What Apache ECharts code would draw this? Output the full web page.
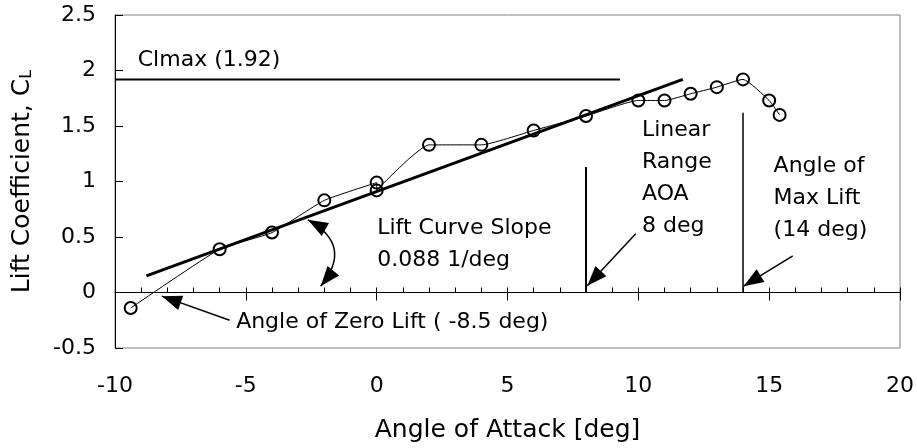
<!DOCTYPE html>
<html>
<head>
<meta charset="utf-8">
<title>Lift Curve</title>
<script src="https://cdn.jsdelivr.net/npm/echarts@6/dist/echarts.min.js"></script>
</head>
<body style="margin:0">
<div id="main" style="width:917px;height:448px;"></div>
<script>
// measured points (angle of attack, lift coefficient)
var aoa = [-9.4, -6, -4, -2, 0, 0, 2, 4, 6, 8, 10, 11, 12, 13, 14, 15, 15.4];
var cl = [-0.14, 0.39, 0.54, 0.83, 0.99, 0.92, 1.33, 1.33, 1.46, 1.59, 1.73, 1.73, 1.79, 1.85, 1.92, 1.73, 1.6];

// linear fit of the lift curve
var fitX = [-8.8, 11.7];
var fitY = [0.15, 1.92];

// Clmax level
var clmaxX = [-10, 9.3];
var clmaxY = [1.92, 1.92];

// vertical markers
var linearX = [8, 8];
var linearY = [0, 1.13];
var maxLiftX = [14, 14];
var maxLiftY = [0, 1.62];

// text notes: [x, y, text]
var notes = [
    [-9.15, 2.09, 'Clmax (1.92)'],
    [0, 0.43, 'Lift Curve Slope\n0.088 1/deg'],
    [10.12, 1.03, 'Linear\nRange\nAOA\n8 deg'],
    [15.15, 0.85, 'Angle of\nMax Lift\n(14 deg)'],
    [-5.39, -0.27, 'Angle of Zero Lift ( -8.5 deg)']
];

// arrows: [x1, y1, x2, y2, curveness, head at start too (1/0)]
var arrows = [
    [9.9, 0.53, 8.05, 0.06, 0, 0],
    [15.9, 0.33, 14.02, 0.057, 0, 0],
    [-5.62, -0.25, -8.21, -0.033, 0, 0],
    [-2.63, 0.655, -2.14, 0.057, 0.6, 1]
];

function pairs(xs, ys) {
    return xs.map(function (x, i) { return [x, ys[i]]; });
}

// filled triangle head with its tip on `tip`, pointing away from `from`
function arrowHead(from, tip) {
    var dx = tip[0] - from[0], dy = tip[1] - from[1];
    var len = Math.sqrt(dx * dx + dy * dy) || 1;
    dx /= len; dy /= len;
    var L = 20, W = 15;
    var bx = tip[0] - dx * L, by = tip[1] - dy * L;
    return {
        type: 'polygon',
        shape: { points: [tip, [bx - dy * W / 2, by + dx * W / 2], [bx + dy * W / 2, by - dx * W / 2]] },
        style: { fill: '#000' }
    };
}

function renderArrow(params, api) {
    var p1 = api.coord([api.value(0), api.value(1)]);
    var p2 = api.coord([api.value(2), api.value(3)]);
    var c = api.value(4);
    var children = [];
    var cp = null;
    if (c) {
        cp = [(p1[0] + p2[0]) / 2 - (p1[1] - p2[1]) * c, (p1[1] + p2[1]) / 2 - (p2[0] - p1[0]) * c];
        children.push({
            type: 'bezierCurve',
            shape: { x1: p1[0], y1: p1[1], x2: p2[0], y2: p2[1], cpx1: cp[0], cpy1: cp[1] },
            style: { stroke: '#000', lineWidth: 1.5, fill: null }
        });
    } else {
        children.push({
            type: 'line',
            shape: { x1: p1[0], y1: p1[1], x2: p2[0], y2: p2[1] },
            style: { stroke: '#000', lineWidth: 1.5 }
        });
    }
    children.push(arrowHead(cp || p1, p2));
    if (api.value(5)) {
        children.push(arrowHead(cp || p2, p1));
    }
    return { type: 'group', children: children };
}

var font = 'DejaVu Sans';
var myChart = echarts.init(document.getElementById('main'));

myChart.setOption({
    animation: false,
    grid: {
        left: 115, right: 16, top: 15, bottom: 100,
        show: true, borderColor: '#808080', borderWidth: 1
    },
    xAxis: [
        {
            type: 'value', min: -10, max: 20, interval: 5, position: 'bottom',
            axisLine: { show: false, onZero: false },
            axisTick: { show: false },
            splitLine: { show: false },
            axisLabel: { margin: 27, fontSize: 22, color: '#000', fontFamily: font },
            name: 'Angle of Attack [deg]', nameLocation: 'middle', nameGap: 70,
            nameTextStyle: { fontSize: 25, color: '#000', fontFamily: font }
        },
        {
            type: 'value', min: -10, max: 20, interval: 1, position: 'bottom',
            axisLine: { show: true, onZero: true, onZeroAxisIndex: 0, lineStyle: { color: '#000', width: 1 } },
            axisTick: { show: true, inside: true, length: 5, lineStyle: { color: '#000' } },
            axisLabel: { show: false },
            splitLine: { show: false }
        },
        {
            type: 'value', min: -10, max: 20, interval: 5, position: 'bottom',
            axisLine: { show: false, onZero: true, onZeroAxisIndex: 0 },
            axisTick: { show: true, inside: false, length: 8, lineStyle: { color: '#000' } },
            axisLabel: { show: false },
            splitLine: { show: false }
        }
    ],
    yAxis: {
        type: 'value', min: -0.5, max: 2.5, interval: 0.5,
        axisLine: { show: true, onZero: false, lineStyle: { color: '#000', width: 1 } },
        axisTick: { show: true, inside: true, length: 8, lineStyle: { color: '#000' } },
        splitLine: { show: false },
        axisLabel: { margin: 19, fontSize: 22, color: '#000', fontFamily: font },
        name: '{a|Lift Coefficient, C}{b|L}', nameLocation: 'middle', nameGap: 80,
        nameTextStyle: {
            color: '#000', fontFamily: font,
            rich: {
                a: { fontSize: 25, color: '#000', fontFamily: font, verticalAlign: 'bottom' },
                b: { fontSize: 16, color: '#000', fontFamily: font, verticalAlign: 'bottom' }
            }
        }
    },
    series: [
        {
            name: 'fit', type: 'line', data: pairs(fitX, fitY),
            showSymbol: false, lineStyle: { color: '#000', width: 3 }
        },
        {
            name: 'clmax', type: 'line', data: pairs(clmaxX, clmaxY),
            showSymbol: false, lineStyle: { color: '#000', width: 2 }
        },
        {
            name: 'linear', type: 'line', data: pairs(linearX, linearY),
            showSymbol: false, lineStyle: { color: '#000', width: 2 }
        },
        {
            name: 'maxLift', type: 'line', data: pairs(maxLiftX, maxLiftY),
            showSymbol: false, lineStyle: { color: '#000', width: 1.5 }
        },
        {
            name: 'CL', type: 'line', data: pairs(aoa, cl), smooth: 0.15,
            symbol: 'circle', symbolSize: 12, showAllSymbol: true,
            itemStyle: { color: 'rgba(0,0,0,0)', borderColor: '#000', borderWidth: 2 },
            lineStyle: { color: '#000', width: 1 }
        },
        {
            name: 'arrows', type: 'custom', silent: true,
            renderItem: renderArrow,
            data: arrows
        },
        {
            name: 'notes', type: 'scatter', symbolSize: 1, silent: true,
            itemStyle: { color: 'transparent', opacity: 1 },
            data: notes.map(function (n) { return { value: [n[0], n[1]], name: n[2] }; }),
            label: {
                show: true, position: 'right', distance: 0,
                formatter: function (p) { return p.name; },
                fontSize: 22, lineHeight: 32, color: '#000', fontFamily: font,
                align: 'left', verticalAlign: 'middle'
            },
            labelLayout: { hideOverlap: false }
        }
    ]
});
</script>
</body>
</html>
